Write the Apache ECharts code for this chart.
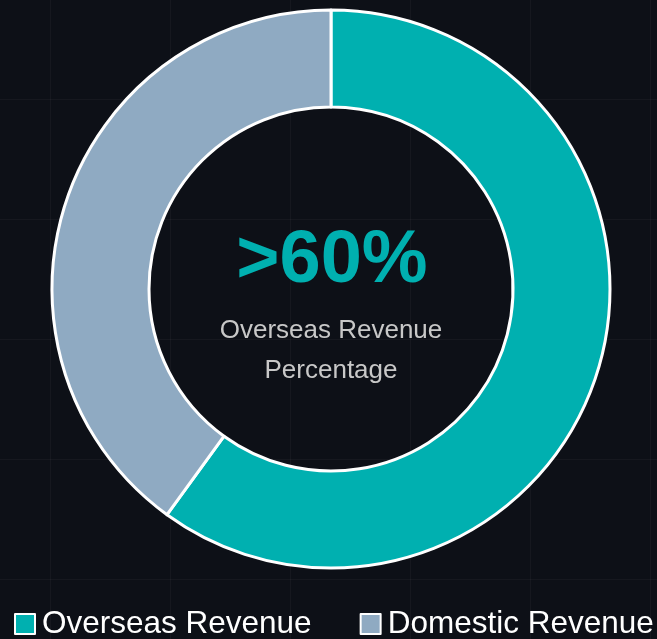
<!DOCTYPE html>
<html>
<head>
<meta charset="utf-8">
<script src="https://cdn.jsdelivr.net/npm/echarts@6/dist/echarts.min.js"></script>
<style>
  html, body {
    margin: 0;
    padding: 0;
    width: 657px;
    height: 639px;
    overflow: hidden;
    background-color: #0d1017;
    background-image:
      linear-gradient(to right, rgba(255,255,255,0.035) 1px, transparent 1px),
      linear-gradient(to bottom, rgba(255,255,255,0.035) 1px, transparent 1px);
    background-size: 120px 120px;
    background-position: 50px 99px;
  }
  #main { width: 657px; height: 639px; }
</style>
</head>
<body>
<div id="main"></div>
<script>
// revenue split
const categories = ["Overseas Revenue", "Domestic Revenue"];
const shares = [60, 40];
const colors = ["#00b0b0", "#8faac2"];
const headline = ">60%";
const caption = "Overseas Revenue\nPercentage";

const chart = echarts.init(document.getElementById("main"));

let option = {
  backgroundColor: "transparent",
  animation: false,
  color: colors,
  legend: {
    data: categories,
    left: 14,
    top: 608,
    width: 643,
    padding: 0,
    itemWidth: 20,
    itemHeight: 20,
    itemGap: 48,
    icon: "rect",
    itemStyle: {
      borderColor: "#ffffff",
      borderWidth: 2,
    },
    textStyle: {
      color: "#ffffff",
      fontSize: 31.5,
      fontFamily: "Arial, 'Liberation Sans', sans-serif",
      padding: [0, 0, 0, 2],
    },
  },
  graphic: [
    {
      type: "text",
      x: 332,
      y: 262,
      style: {
        text: headline,
        fill: "#00b0b0",
        font: "bold 74px Arial, 'Liberation Sans', sans-serif",
        textAlign: "center",
        textVerticalAlign: "middle",
      },
    },
    {
      type: "text",
      x: 331,
      y: 351,
      style: {
        text: caption,
        fill: "#c8c8c8",
        font: "26px Arial, 'Liberation Sans', sans-serif",
        lineHeight: 40,
        textAlign: "center",
        textVerticalAlign: "middle",
      },
    },
  ],
  series: [
    {
      name: "Revenue",
      type: "pie",
      center: [331, 289],
      radius: [182, 279],
      startAngle: 90,
      clockwise: true,
      label: { show: false },
      labelLine: { show: false },
      itemStyle: {
        borderColor: "#ffffff",
        borderWidth: 3,
      },
      emphasis: { disabled: true },
      data: categories.map((name, i) => ({ name: name, value: shares[i] })),
    },
  ],
};

chart.setOption(option);
</script>
</body>
</html>
